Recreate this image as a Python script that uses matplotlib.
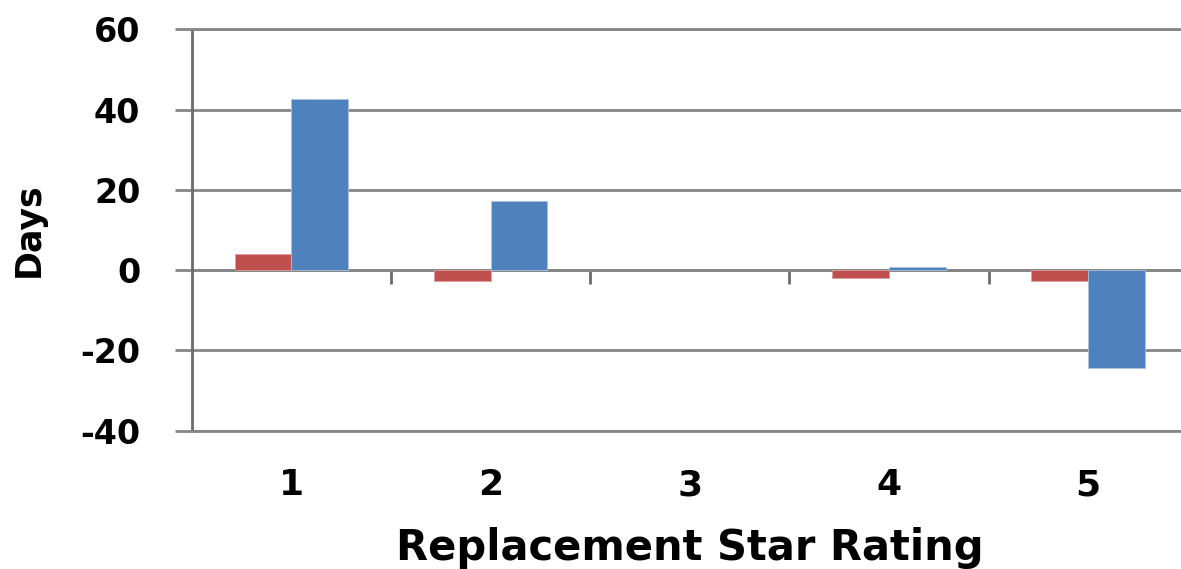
import numpy as np
import matplotlib
matplotlib.use('Agg')
import matplotlib.pyplot as plt

# ── Data ──────────────────────────────────────
ratings = [1, 2, 3, 4, 5]
red_days = [4.1, -2.8, np.nan, -2.0, -2.6]
blue_days = [42.6, 17.3, np.nan, 0.75, -24.3]
y_ticks = [-40, -20, 0, 20, 40, 60]

RED = '#C0504D'
BLUE = '#4F81BD'
GRID = '#868686'

plt.rcParams['font.family'] = ['DejaVu Sans']
plt.rcParams['font.weight'] = 'bold'

fig = plt.figure(figsize=(11.81, 5.69), dpi=100)
ax = fig.add_axes([0.1623, 0.2431, 0.8377, 0.7054])

x = np.array(ratings, dtype=float)
w = 0.285
ax.bar(x - w/2, red_days, width=w, color=RED, edgecolor='#D9A09E', linewidth=0.6, zorder=3)
ax.bar(x + w/2, blue_days, width=w, color=BLUE, edgecolor='#A9C2E0', linewidth=0.6, zorder=3)

ax.set_xlim(0.5, 5.466)
ax.set_ylim(-40, 60)
ax.set_yticks(y_ticks)
ax.set_yticklabels([str(v) for v in y_ticks], fontsize=24, fontweight='bold')
ax.yaxis.grid(True, color=GRID, linewidth=2, zorder=1)
ax.set_axisbelow(True)

ax.spines['right'].set_visible(False)
for s in ['top', 'bottom']:
    ax.spines[s].set_color(GRID)
    ax.spines[s].set_linewidth(2)
ax.spines['left'].set_color('#6a6a6a')
ax.spines['left'].set_linewidth(2)
ax.tick_params(axis='y', direction='out', length=12, width=2, color=GRID, pad=25)

ax.set_xticks(ratings)
ax.set_xticklabels([str(r) for r in ratings], fontsize=26, fontweight='bold')
ax.tick_params(axis='x', length=0, pad=27)

# category axis crossing at zero, with boundary ticks
sec = ax.secondary_xaxis(0.4)
sec.set_xticks([1.5, 2.5, 3.5, 4.5])
sec.set_xticklabels([])
sec.tick_params(direction='out', length=10, width=2, color='#6a6a6a')
sec.spines['bottom'].set_color(GRID)
sec.spines['bottom'].set_linewidth(2)

ax.set_ylabel('Days', fontsize=25, fontweight='bold')
ax.yaxis.set_label_coords(-0.148, 0.5)
ax.set_xlabel('Replacement Star Rating', fontsize=30, fontweight='bold')
ax.xaxis.set_label_coords(0.5037, -0.24)

fig.savefig('out.png', dpi=100)
